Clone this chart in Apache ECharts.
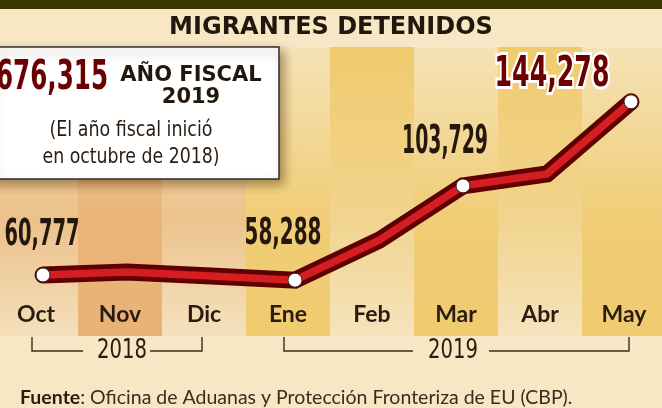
<!DOCTYPE html>
<html>
<head>
<meta charset="utf-8">
<script src="https://cdn.jsdelivr.net/npm/echarts@6/dist/echarts.min.js"></script>
<style>
  html, body { margin: 0; padding: 0; background: #f7e7c5; }
  #main { width: 662px; height: 408px; }
</style>
</head>
<body>
<div id="main"></div>
<script>
// meses del año fiscal 2019
var months = ['Oct', 'Nov', 'Dic', 'Ene', 'Feb', 'Mar', 'Abr', 'May'];
// migrantes detenidos por mes
var detained = [60777, 62200, 60300, 58288, 77500, 103729, 109500, 144278];
// meses con la cifra rotulada
var labeled = [0, 3, 5, 7];
var fiscalTotal = 676315;
var years = ['2018', '2019'];

// colores de las columnas (arriba, medio, abajo)
var colFill = [
  ['#f3dfb7', '#ecc18b', '#f4dfbb'],
  ['#f2d8a8', '#e9b477', '#e9b378'],
  ['#f3dfb7', '#ecc38e', '#f5e1be'],
  ['#f5e2b6', '#f0cd76', '#f0cb6f'],
  ['#f0cb6e', '#f1d48e', '#f6e3be'],
  ['#f5e2b6', '#f0cd76', '#f0cb6f'],
  ['#f0cb6e', '#f1d48e', '#f6e3be'],
  ['#f5e2b6', '#f0cd76', '#f0cb6f']
];
// desplazamiento, tamaño y ancho de cada rótulo numérico
var labelStyle = {
  0: { dx: -1, dy: -40, size: 38, w: 75, fill: '#24170d' },
  3: { dx: -12, dy: -46, size: 38, w: 77, fill: '#24170d' },
  5: { dx: -18, dy: -43, size: 39, w: 86, fill: '#24170d' },
  7: { dx: -79, dy: -27, size: 43, w: 115, fill: '#6b0000', stroke: '#ffffff' }
};

var NARROW = '"Liberation Sans Narrow", "DejaVu Sans Condensed", sans-serif';
var ink = '#2a1c10';
var bracket = { stroke: '#3b2c1c', lineWidth: 1.4, fill: null };

var ctx = document.createElement('canvas').getContext('2d');
// escala horizontal para que un texto ocupe el ancho del original
function fit(text, weight, size, family, width) {
  ctx.font = weight + ' ' + size + 'px ' + family;
  return width / ctx.measureText(text).width;
}
function fmt(v) {
  return String(v).replace(/\B(?=(\d{3})+(?!\d))/g, ',');
}
function grad(c) {
  return new echarts.graphic.LinearGradient(0, 0, 0, 1, [
    { offset: 0, color: c[0] },
    { offset: 0.6, color: c[1] },
    { offset: 1, color: c[2] }
  ]);
}
function narrowText(x, y, text, weight, size, width, fill, align) {
  return {
    type: 'text', x: x, y: y, z: 11, scaleX: fit(text, weight, size, NARROW, width),
    style: { text: text, fontFamily: NARROW, fontWeight: weight, fontSize: size, fill: fill, align: align || 'center', verticalAlign: 'middle' }
  };
}

var chart = echarts.init(document.getElementById('main'), null, { renderer: 'canvas' });

var option = {
  animation: false,
  backgroundColor: '#f7e7c5',
  grid: [
    { left: -6, right: -4, top: 47, bottom: 72, outerBoundsMode: 'none' },
    { left: 1, right: -11, top: 7, bottom: 7, outerBoundsMode: 'none' }
  ],
  xAxis: [
    {
      type: 'category', gridIndex: 0, data: months, z: 6,
      axisLine: { show: false }, axisTick: { show: false },
      axisLabel: {
        inside: true, margin: 21, verticalAlign: 'middle',
        fontFamily: 'Lato', fontWeight: 'bold', fontSize: 23, color: ink
      }
    },
    { type: 'category', gridIndex: 1, data: months, show: false }
  ],
  yAxis: [
    { type: 'value', gridIndex: 0, min: 0, max: 1, show: false },
    { type: 'value', gridIndex: 1, min: 0, max: 190000, show: false }
  ],
  series: [
    {
      type: 'bar', xAxisIndex: 0, yAxisIndex: 0, silent: true,
      barWidth: '100%', barCategoryGap: 0, z: 1,
      data: months.map(function (m, i) {
        return { value: 1, itemStyle: { color: grad(colFill[i]) } };
      })
    },
    {
      type: 'line', xAxisIndex: 1, yAxisIndex: 1, data: detained,
      symbol: 'none', z: 3,
      lineStyle: { width: 17, color: '#5f0000', cap: 'round', join: 'miter' }
    },
    {
      type: 'line', xAxisIndex: 1, yAxisIndex: 1, z: 4,
      data: detained.map(function (v, i) {
        return labeled.indexOf(i) >= 0 ? v : { value: v, symbol: 'none' };
      }),
      symbol: 'circle', symbolSize: 14,
      itemStyle: { color: '#ffffff', borderColor: '#2b1b1b', borderWidth: 1 },
      lineStyle: { width: 7.5, color: '#d61e22', join: 'miter' }
    },
    {
      type: 'custom', xAxisIndex: 1, yAxisIndex: 1, z: 5, silent: true,
      data: labeled.map(function (i) { return [i, detained[i]]; }),
      renderItem: function (params, api) {
        var i = api.value(0), v = api.value(1);
        var p = api.coord([i, v]);
        var s = labelStyle[i];
        var txt = fmt(v);
        return {
          type: 'text',
          x: p[0] + s.dx, y: p[1] + s.dy,
          scaleX: fit(txt, 'bold', s.size, NARROW, s.w),
          style: {
            text: txt, fill: s.fill,
            fontFamily: NARROW, fontWeight: 'bold', fontSize: s.size,
            align: 'center', verticalAlign: 'middle',
            stroke: s.stroke || null, lineWidth: s.stroke ? 6 : 0
          }
        };
      }
    }
  ],
  graphic: [
    { type: 'rect', shape: { x: 0, y: 0, width: 662, height: 9 }, style: { fill: '#3b3700' }, z: 10 },
    {
      type: 'text', x: 331, y: 28, z: 10,
      style: { text: 'MIGRANTES DETENIDOS', fontFamily: 'DejaVu Sans', fontWeight: 'bold', fontSize: 24, fill: '#22170d', align: 'center', verticalAlign: 'middle' }
    },
    {
      type: 'rect', z: 10, shape: { x: -10, y: 47, width: 289, height: 132 },
      style: { fill: '#ffffff', stroke: '#2e2e2e', lineWidth: 1.5, shadowBlur: 10, shadowColor: 'rgba(70,35,0,0.45)', shadowOffsetX: 4, shadowOffsetY: 5 }
    },
    narrowText(108, 78, fmt(fiscalTotal), 'bold', 41, 112, '#6b0000', 'right'),
    {
      type: 'text', x: 191, y: 76, z: 11,
      style: { text: 'AÑO FISCAL', fontFamily: 'DejaVu Sans', fontWeight: 'bold', fontSize: 21, fill: '#22170d', align: 'center', verticalAlign: 'middle' }
    },
    {
      type: 'text', x: 191, y: 98, z: 11,
      style: { text: years[1], fontFamily: 'DejaVu Sans', fontWeight: 'bold', fontSize: 21, fill: '#22170d', align: 'center', verticalAlign: 'middle' }
    },
    narrowText(131, 130, '(El año fiscal inició', 'normal', 22, 163, ink),
    narrowText(131, 157, 'en octubre de 2018)', 'normal', 22, 177, ink),
    // corchetes de años
    { type: 'polyline', z: 10, shape: { points: [[32, 337], [32, 351], [83, 351]] }, style: bracket },
    { type: 'polyline', z: 10, shape: { points: [[150, 351], [202, 351], [202, 337]] }, style: bracket },
    narrowText(122, 351, years[0], 'normal', 26, 50, ink),
    { type: 'polyline', z: 10, shape: { points: [[284, 337], [284, 351], [413, 351]] }, style: bracket },
    { type: 'polyline', z: 10, shape: { points: [[489, 351], [629, 351], [629, 337]] }, style: bracket },
    narrowText(453, 351, years[1], 'normal', 26, 50, ink),
    {
      type: 'text', x: 20, y: 398, z: 10,
      style: {
        text: '{b|Fuente}: Oficina de Aduanas y Protección Fronteriza de EU (CBP).',
        fontFamily: 'Lato', fontSize: 19.5, fill: '#3b2c1c', align: 'left', verticalAlign: 'middle',
        rich: { b: { fontFamily: 'Lato', fontWeight: 'bold', fontSize: 19.5, fill: '#2a1c10' } }
      }
    }
  ]
};

chart.setOption(option);
</script>
</body>
</html>
